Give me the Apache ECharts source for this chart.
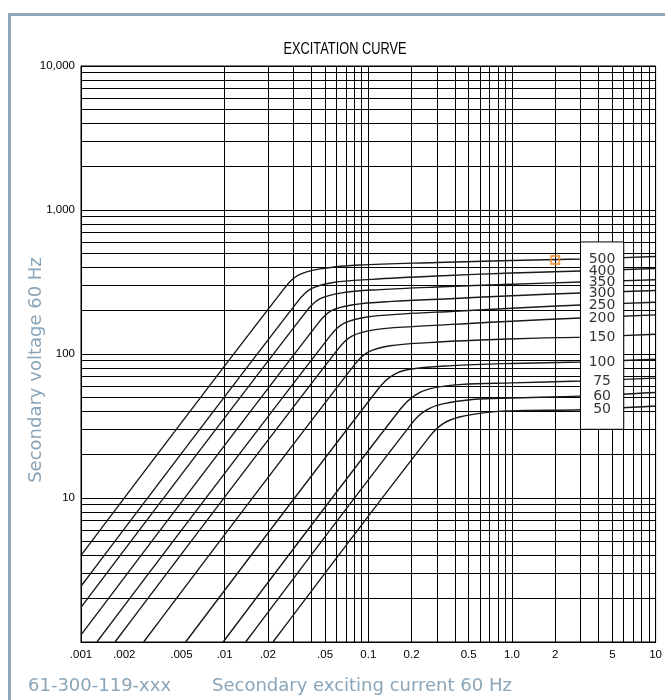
<!DOCTYPE html>
<html>
<head>
<meta charset="utf-8">
<script src="https://cdn.jsdelivr.net/npm/echarts@6/dist/echarts.min.js"></script>
<style>
html,body{margin:0;padding:0;background:#fff;}
#chart{width:665px;height:700px;}
</style>
</head>
<body>
<div id="chart"></div>
<script>
// ---- data ----
const ratioLabels = ['500','400','350','300','250','200','150','100','75','60','50'];
const curve500 = [[0.001,4.0],[0.0261,287],[0.0326,353],[0.0463,390],[0.086,415],[0.3,432],[1,446],[3,457],[10,475]];
const curve400 = [[0.001,2.44],[0.0322,231],[0.0401,284],[0.057,314],[0.1055,330],[0.3,348],[1,365],[3,377],[10,392]];
const curve350 = [[0.001,1.74],[0.0368,196],[0.0459,241],[0.0652,266],[0.121,280],[0.3,292],[1,305],[3,316],[10,328]];
const curve300 = [[0.001,1.12],[0.0444,162],[0.0554,200],[0.0787,220],[0.146,232],[0.4,243],[1,254],[3,265],[10,276]];
const curve250 = [[0.00129,1],[0.0541,133],[0.0675,163],[0.0959,180],[0.178,190],[0.4,198],[1,208],[3,219],[10,229]];
const curve200 = [[0.001725,1],[0.0617,108.5],[0.077,133],[0.109,147],[0.2025,155],[0.5,163],[1,169],[3,178],[10,187]];
const curve150 = [[0.00273,1],[0.080,84],[0.0998,103],[0.142,114],[0.263,120],[0.6,125],[1.5,129],[3,131],[10,137]];
const curve100 = [[0.00535,1],[0.1175,57.4],[0.146,70.5],[0.19,78],[0.385,83],[1,86],[3,88],[10,92]];
const curve75  = [[0.00976,1],[0.169,42],[0.211,51.6],[0.27,57.5],[0.45,61.5],[1,63],[3,65],[10,68]];
const curve60  = [[0.014,1],[0.201,33],[0.25,40.4],[0.33,45],[0.55,48.5],[1,49.5],[3,51],[10,54]];
const curve50  = [[0.0217,1],[0.266,26.6],[0.33,32.7],[0.43,36.5],[0.7,39.5],[1.2,40.5],[3,41],[10,43.5]];
const curves = [curve500,curve400,curve350,curve300,curve250,curve200,curve150,curve100,curve75,curve60,curve50];
const markerPoint = [[2, 450]];

const xTickValues = [0.001,0.002,0.005,0.01,0.02,0.05,0.1,0.2,0.5,1,2,5,10];
const xTickLabels = ['.001','.002','.005','.01','.02','.05','0.1','0.2','0.5','1.0','2','5','10'];
const yTickValues = [10,100,1000,10000];
const yTickLabels = ['10','100','1,000','10,000'];
const mantissas = [2,3,4,5,6,7,8,9];
const xDecades = [0.001,0.01,0.1,1];
const yDecades = [1,10,100,1000];
const labelBoxX = [3, 6];
const labelBoxY = [30, 600];
const labelX = 4.24;

// ---- build ----
const xMinor = [], yMinor = [];
xDecades.forEach(d => mantissas.forEach(m => xMinor.push(+(d*m).toPrecision(3))));
yDecades.forEach(d => mantissas.forEach(m => yMinor.push(d*m)));

const chart = echarts.init(document.getElementById('chart'), null, {renderer:'canvas'});
const font = 'Liberation Sans, Arial, sans-serif';
const blueFont = '18px DejaVu Sans, sans-serif';
const blue = '#8aa5b9';

const gridLineStyle = {color:'#000', width:1, type:'solid'};
const series = [];
series.push({
  type:'line', data:[], silent:true, z:1,
  markLine:{
    silent:true, symbol:['none','none'], animation:false, z:1,
    label:{show:false}, lineStyle:gridLineStyle,
    data: xMinor.map(v=>({xAxis:v})).concat(yMinor.map(v=>({yAxis:v})))
  }
});
curves.forEach((c,i)=>{
  series.push({
    type:'line', name:ratioLabels[i], data:c, smooth:0.35, symbol:'none', z:2,
    lineStyle:{color:'#1a1a1a', width:1.4}, silent:true, animation:false, clip:true
  });
});
series.push({
  type:'scatter', z:10, symbolSize:0, silent:true, animation:false,
  data: curves.map((c,i)=>{ const p = c.find(q=>q[0]===3); return {value:[labelX, p[1]], name:ratioLabels[i]}; }),
  label:{show:true, position:'inside', formatter:p=>p.name, color:'#000', fontSize:14, fontFamily:'DejaVu Sans, sans-serif'},
  markArea:{
    silent:true, z:9,
    itemStyle:{color:'#fff', borderColor:'#000', borderWidth:1},
    data:[[{xAxis:labelBoxX[0], yAxis:labelBoxY[0]},{xAxis:labelBoxX[1], yAxis:labelBoxY[1]}]]
  }
});
series.push({
  type:'scatter', z:12, data:markerPoint, symbol:'rect', symbolSize:8, silent:true, animation:false,
  itemStyle:{color:'rgba(0,0,0,0)', borderColor:'#f08a2c', borderWidth:2}
});

const option = {
  animation:false,
  backgroundColor:'#fff',
  grid:{left:81, right:9, top:66, bottom:58, show:true, borderColor:'#000', borderWidth:1},
  xAxis:{
    type:'log', logBase:10, min:0.001, max:10,
    axisLine:{show:true, lineStyle:{color:'#000', width:1}},
    axisTick:{show:false},
    splitLine:{show:true, lineStyle:gridLineStyle},
    axisLabel:{
      customValues:xTickValues, color:'#000', fontSize:11.5, fontFamily:font, margin:7,
      formatter:v=>{ const i = xTickValues.findIndex(t=>Math.abs(t-v)/t<1e-6); return i>=0?xTickLabels[i]:''; }
    }
  },
  yAxis:{
    type:'log', logBase:10, min:1, max:10000,
    axisLine:{show:true, lineStyle:{color:'#000', width:1}},
    axisTick:{show:false},
    splitLine:{show:true, lineStyle:gridLineStyle},
    axisLabel:{
      customValues:yTickValues, color:'#000', fontSize:11.5, fontFamily:font, margin:6,
      formatter:v=>{ const i = yTickValues.findIndex(t=>Math.abs(t-v)/t<1e-6); return i>=0?yTickLabels[i]:''; }
    }
  },
  graphic:[
    {type:'rect', silent:true, shape:{x:8, y:13, width:700, height:3}, style:{fill:'#8ea8b9'}},
    {type:'rect', silent:true, shape:{x:8, y:13, width:3, height:700}, style:{fill:'#8ea8b9'}},
    {type:'text', silent:true, x:345, y:50, scaleX:0.8, style:{text:'EXCITATION CURVE', fill:'#000', font:'16px Liberation Sans, Arial, sans-serif', align:'center', verticalAlign:'middle'}},
    {type:'text', silent:true, x:36, y:370, rotation:Math.PI/2, style:{text:'Secondary voltage 60 Hz', fill:blue, font:blueFont, align:'center', verticalAlign:'middle'}},
    {type:'text', silent:true, x:28, y:686, style:{text:'61-300-119-xxx', fill:blue, font:blueFont, align:'left', verticalAlign:'middle'}},
    {type:'text', silent:true, x:212, y:686, style:{text:'Secondary exciting current 60 Hz', fill:blue, font:blueFont, align:'left', verticalAlign:'middle'}}
  ],
  series:series
};
chart.setOption(option);
</script>
</body>
</html>
